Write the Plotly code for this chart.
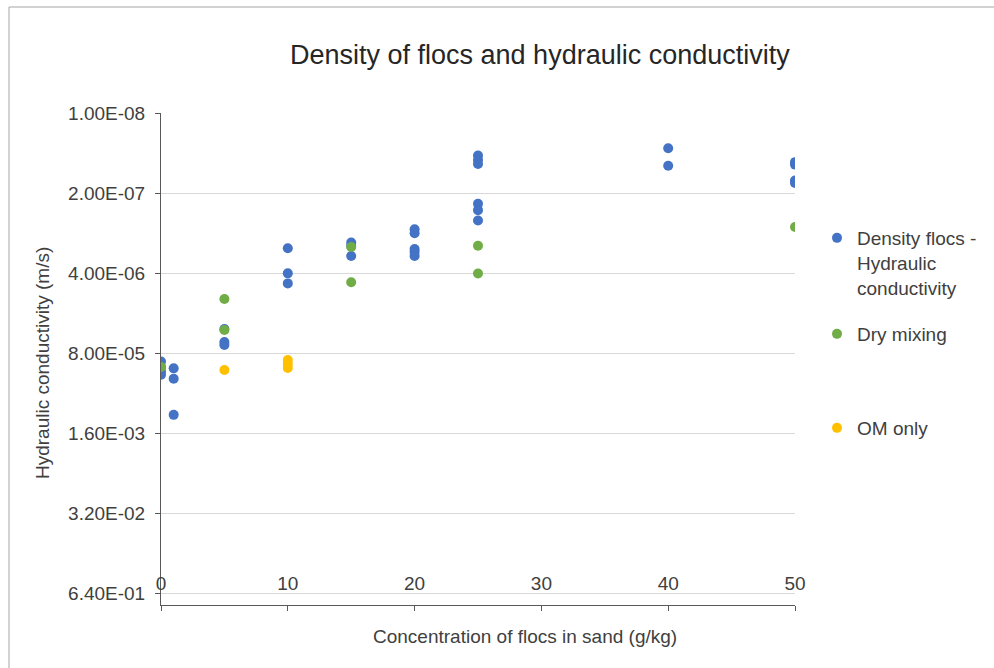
import plotly.graph_objects as go

# ---------------- data ----------------
density_x = [0, 0, 0, 0, 1, 1, 1, 5, 5, 5, 10, 10, 10, 15, 15, 15,
             20, 20, 20, 20, 20, 25, 25, 25, 25, 25, 25, 40, 40, 50, 50, 50, 50]
density_k = [1.1e-4, 1.35e-4, 1.6e-4, 1.8e-4, 1.42e-4, 2.1e-4, 8.1e-4,
             3.26e-5, 5.3e-5, 5.9e-5, 1.58e-6, 4.05e-6, 5.9e-6,
             1.28e-6, 1.46e-6, 2.12e-6,
             7.8e-7, 9.0e-7, 1.63e-6, 1.82e-6, 2.12e-6,
             4.9e-8, 5.8e-8, 6.75e-8, 3.0e-7, 3.8e-7, 5.6e-7,
             3.75e-8, 7.2e-8, 6.3e-8, 6.9e-8, 1.25e-7, 1.37e-7]

dry_x = [0, 5, 5, 15, 15, 25, 25, 50]
dry_k = [1.35e-4, 1.06e-5, 3.38e-5, 1.51e-6, 5.66e-6, 1.44e-6, 4.07e-6, 7.14e-7]

om_x = [5, 10, 10, 10]
om_k = [1.51e-4, 1.04e-4, 1.21e-4, 1.40e-4]

y_tick_text = ["1.00E-08", "2.00E-07", "4.00E-06", "8.00E-05",
               "1.60E-03", "3.20E-02", "6.40E-01"]
y_tick_vals = [float(t) for t in y_tick_text]
x_tick_vals = [0, 10, 20, 30, 40, 50]

# ---------------- layout helpers ----------------
W, H = 994, 668
PL, PR, PT, PB = 161, 795, 113, 605


def px_x(p):
    return (p - PL) / (PR - PL)


def px_y(p):
    return (PB - p) / (PB - PT)


FONT = "Liberation Sans, Arial, sans-serif"
TXT = "#404040"
FS = 19

fig = go.Figure()
fig.add_trace(go.Scatter(x=density_x, y=density_k, mode="markers",
                         name="Density flocs -<br>Hydraulic<br>conductivity",
                         marker=dict(color="#4472C4", size=10), legend="legend"))
fig.add_trace(go.Scatter(x=dry_x, y=dry_k, mode="markers", name="Dry mixing",
                         marker=dict(color="#70AD47", size=10), legend="legend2"))
fig.add_trace(go.Scatter(x=om_x, y=om_k, mode="markers", name="OM only",
                         marker=dict(color="#FFC000", size=10), legend="legend3"))

leg_common = dict(font=dict(family=FONT, size=FS, color=TXT), bgcolor="rgba(0,0,0,0)",
                  xanchor="left", yanchor="middle", valign="top",
                  itemclick=False, itemdoubleclick=False)

fig.update_layout(
    width=W, height=H,
    margin=dict(l=PL, r=W - PR, t=PT, b=H - PB),
    paper_bgcolor="white", plot_bgcolor="white",
    font=dict(family=FONT, size=FS, color=TXT),
    showlegend=True,
    legend=dict(x=px_x(817), y=px_y(263), **leg_common),
    legend2=dict(x=px_x(817), y=px_y(334), **leg_common),
    legend3=dict(x=px_x(817), y=px_y(428), **leg_common),
    xaxis=dict(range=[0, 50], tickvals=x_tick_vals, showgrid=False, zeroline=False,
               showline=True, linecolor="#595959", linewidth=1,
               ticks="outside", ticklen=5, tickcolor="#595959",
               ticklabelposition="inside", ticklabeloverflow="allow",
               ticklabelstandoff=12,
               tickfont=dict(size=FS, color=TXT)),
    yaxis=dict(type="log", range=[0, -8], tickvals=y_tick_vals, ticktext=y_tick_text,
               showgrid=True, gridcolor="#D9D9D9", gridwidth=1, zeroline=False,
               showline=True, linecolor="#595959", linewidth=1,
               ticks="outside", ticklen=5, tickcolor="#595959",
               ticklabelstandoff=6,
               tickfont=dict(size=FS, color=TXT)),
    annotations=[
        dict(text="Density of flocs and hydraulic conductivity", xref="paper", yref="paper",
             x=px_x(540), y=px_y(55), xanchor="center", yanchor="middle", showarrow=False,
             font=dict(family=FONT, size=27, color="#262626")),
        dict(text="Concentration of flocs in sand (g/kg)", xref="paper", yref="paper",
             x=px_x(525), y=px_y(636), xanchor="center", yanchor="middle", showarrow=False,
             font=dict(family=FONT, size=FS, color=TXT)),
        dict(text="Hydraulic conductivity (m/s)", xref="paper", yref="paper",
             x=px_x(42), y=px_y(363), xanchor="center", yanchor="middle", showarrow=False,
             textangle=-90, font=dict(family=FONT, size=FS, color=TXT)),
    ],
    shapes=[
        dict(type="line", xref="paper", yref="paper", x0=px_x(9), x1=px_x(9),
             y0=px_y(7), y1=px_y(H + 5), line=dict(color="#A6A6A6", width=1)),
        dict(type="line", xref="paper", yref="paper", x0=px_x(9), x1=px_x(W + 5),
             y0=px_y(7), y1=px_y(7), line=dict(color="#A6A6A6", width=1)),
    ],
)

fig.write_html("out.html")
